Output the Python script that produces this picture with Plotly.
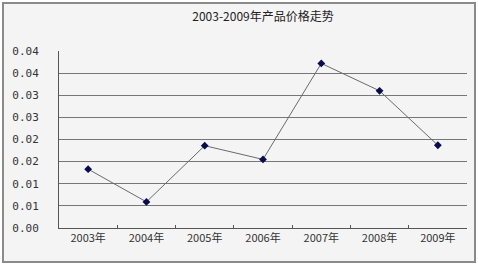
import plotly.graph_objects as go

years = ["2003年", "2004年", "2005年", "2006年", "2007年", "2008年", "2009年"]
prices = [0.0133, 0.0059, 0.0186, 0.0155, 0.0372, 0.0310, 0.0187]
y_tickvals = [0, 0.005, 0.01, 0.015, 0.02, 0.025, 0.03, 0.035, 0.04]
y_ticktext = ["0.00", "0.01", "0.01", "0.02", "0.02", "0.03", "0.03", "0.04", "0.04"]
title = "2003-2009年产品价格走势"

FONT = "Noto Sans CJK SC, DejaVu Sans, sans-serif"
MONO = "DejaVu Sans Mono, monospace"

fig = go.Figure()
fig.add_trace(go.Scatter(
    x=years, y=prices, mode="lines+markers",
    line=dict(color="#6a6a6a", width=1),
    marker=dict(symbol="diamond", size=6, color="#0a0a50"),
    showlegend=False, hoverinfo="skip",
))

L, R, T, B = 59, 11, 51, 37
W, H = 478, 265
pw, ph = W - L - R, H - T - B

def px2paper_x(px):
    return (px - L) / pw

def px2paper_y(py):
    return (H - B - py) / ph

fig.add_shape(type="rect", xref="paper", yref="paper",
              x0=px2paper_x(3), x1=px2paper_x(475), y0=px2paper_y(262), y1=px2paper_y(3),
              line=dict(color="#8a8a8a", width=2), fillcolor="#f4f4f4", layer="below")

fig.update_layout(
    width=W, height=H,
    margin=dict(l=L, r=R, t=T, b=B),
    paper_bgcolor="white",
    plot_bgcolor="#f4f4f4",
    font=dict(family=FONT, size=11, color="#333333"),
    title=dict(text=title, x=0.5, xref="paper", xanchor="center", y=1 - 17 / H, yanchor="middle",
               font=dict(family=FONT, size=12, color="#222222")),
    xaxis=dict(
        type="category", range=[-0.5, 6.5],
        showgrid=False, showline=True, linecolor="#555555", linewidth=1,
        ticks="inside", ticklen=3, tickcolor="#555555", tickson="boundaries",
        tickfont=dict(family=FONT, size=11, color="#333333"),
        fixedrange=True,
    ),
    yaxis=dict(
        range=[0, 0.04], tickvals=y_tickvals, ticktext=y_ticktext,
        showgrid=True, gridcolor="#767676", gridwidth=1,
        showline=True, linecolor="#555555", linewidth=1,
        ticks="", ticklabelstandoff=17,
        zeroline=False,
        tickfont=dict(family=MONO, size=11, color="#333333"),
        fixedrange=True,
    ),
)

fig.write_html("out.html")
